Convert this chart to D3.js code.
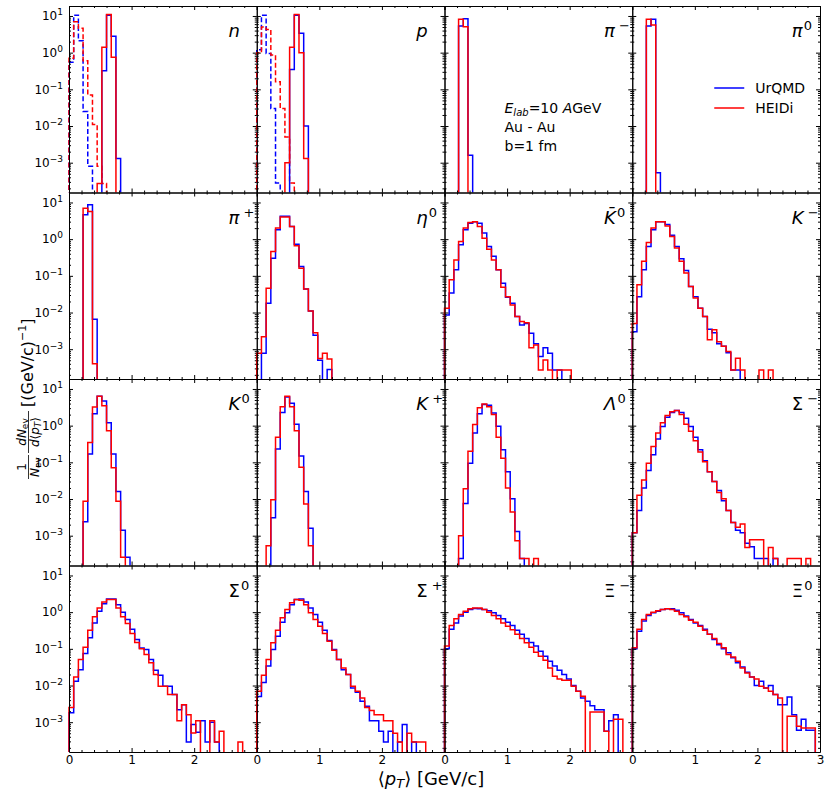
<!DOCTYPE html>
<meta charset="utf-8">
<style>
body { margin: 0; background: #fff; }
text { font-family: "DejaVu Sans", sans-serif; fill: #000; }
.tick line, .domain { stroke: #000; }
</style>
<svg id="svg" width="831" height="792"></svg>
<script src="https://d3js.org/d3.v7.min.js"></script>
<script>
// histogram bins: 0.075 GeV/c wide, starting at 0
var binWidth = 0.075;

// n, p: dashed = initial state, solid = final state
var n_init_urqmd = [0.55, 10.5, 2.1, 0.025, 8e-4];
var n_init_heidi = [0.7, 7, 4.6, 0.6, 0.07, 0.011, 8e-4, 2.7e-4];
var n_urqmd = [0, 0, 0, 0, 0, 0, 0, 0.32, 10.5, 2.8, 1.3e-3];
var n_heidi = [0, 0, 0, 0, 0, 0, 2.7e-4, 1.4, 11, 0.75];

var p_init_urqmd = [1.2, 10.5, 0.95, 0.03, 2.8e-4];
var p_init_heidi = [1.0, 5, 4.3, 0.86, 0.16, 0.03, 5e-3, 2.8e-4];
var p_urqmd = [0, 0, 0, 0, 0, 0, 0, 0.35, 10.5, 3.4, 0.01];
var p_heidi = [0, 0, 0, 0, 0, 0, 1e-3, 1.4, 11, 1.0, 1.3e-3];

var piMinus_urqmd = [0, 0, 0, 5.3, 8.4, 1.6e-3];
var piMinus_heidi = [0, 0, 0, 8.1, 5.1];
var piZero_urqmd = [0, 0, 0, 5.3, 8.1, 5.3e-4];
var piZero_heidi = [0, 0, 0, 8.1, 5.7];
var piPlus_urqmd = [0, 0, 0, 4.6, 8.6, 6.6e-3];
var piPlus_heidi = [0, 0, 0, 7, 5.7, 4e-4];

var eta_urqmd = [0, 7.8e-4, 0.018, 0.3, 1.8, 4.2, 4.2, 2.2, 0.73, 0.18, 0.044, 0.011, 2.4e-3, 5e-4, 0, 2.8e-4];
var eta_heidi = [7.8e-4, 2.2e-3, 0.046, 0.46, 2.0, 4.0, 4.0, 2.2, 0.66, 0.16, 0.044, 0.011, 2.8e-3, 5.6e-4, 7.8e-4, 5.4e-4];

var kBar_urqmd = [8.6e-3, 0.034, 0.146, 0.7, 1.8, 2.7, 3.0, 2.7, 1.46, 0.63, 0.34, 0.146, 0.063, 0.026, 0.018, 7.8e-3,
  4.6e-3, 5e-3, 2.7e-3, 1.4e-3, 6.3e-4, 1.1e-3, 7.8e-4, 2.7e-4, 2.7e-4];
var kBar_heidi = [0.013, 0.078, 0.27, 0.86, 2.0, 2.85, 3.0, 2.2, 1.06, 0.53, 0.27, 0.146, 0.049, 0.027, 0.016, 7.8e-3,
  5.7e-3, 5.3e-3, 1.1e-3, 1.3e-3, 2.7e-4, 5.1e-4, 2.7e-4, 0, 2.7e-4, 2.7e-4, 2.7e-4];

var kMinus_urqmd = [3e-3, 0.027, 0.146, 0.63, 1.8, 3.0, 3.0, 2.5, 1.27, 0.63, 0.29, 0.14, 0.051, 0.027, 0.013, 7.8e-3,
  3.5e-3, 2.8e-3, 1.4e-3, 1.2e-3, 8e-4, 2.7e-4, 2.7e-4];
var kMinus_heidi = [5e-3, 0.057, 0.25, 0.81, 2.0, 3.0, 3.0, 2.3, 1.18, 0.57, 0.25, 0.12, 0.051, 0.025, 0.013, 7.8e-3,
  1.8e-3, 3.4e-3, 1.6e-3, 1.2e-3, 8.6e-4, 2.7e-4, 5.7e-4, 2.7e-4, 0, 0, 0, 2.7e-4, 0, 2.7e-4];

var kZero_urqmd = [0, 0, 0, 2.4e-3, 0.17, 2.1, 6.3, 4.7, 1.2, 0.17, 0.016, 1.4e-3, 2.6e-4];
var kZero_heidi = [0, 0, 0, 8.7e-3, 0.35, 3.2, 6.3, 3.5, 0.73, 0.071, 8.7e-3, 2.6e-4];
var kPlus_urqmd = [0, 0, 0, 3.1e-3, 0.23, 2.3, 6.0, 4.1, 1.1, 0.15, 0.016, 1.6e-3];
var kPlus_heidi = [0, 0, 5.3e-4, 9.5e-3, 0.48, 3.3, 6.3, 3.3, 0.73, 0.074, 7.3e-3, 5.3e-4];

var lambda_urqmd = [0, 0, 0, 2.4e-4, 7.5e-3, 0.094, 0.63, 2.1, 3.8, 3.6, 2.2, 0.96, 0.22, 0.055, 0.0102, 1.3e-3, 2.4e-4];
var lambda_heidi = [0, 0, 0, 1e-3, 0.019, 0.2, 1.07, 3.1, 3.9, 3.3, 2.0, 0.48, 0.13, 0.02, 4.4e-3, 7.3e-4, 2.4e-4, 2.4e-4, 0, 2.4e-4];

var sigmaMinus_urqmd = [1.2e-3, 4.9e-3, 0.02, 0.06, 0.16, 0.43, 0.95, 1.7, 2.3, 2.6, 2.3, 1.6, 0.95, 0.48, 0.22, 0.11,
  0.055, 0.03, 0.017, 9e-3, 4.9e-3, 2.3e-3, 1.4e-3, 1.2e-3, 6.2e-4, 5e-4, 2.4e-4, 2.4e-4, 2.4e-4, 0, 2.4e-4];
var sigmaMinus_heidi = [1.2e-3, 0.0126, 0.033, 0.094, 0.27, 0.63, 1.2, 1.9, 2.4, 2.6, 2.0, 1.1, 0.7, 0.39, 0.19, 0.104,
  0.055, 0.03, 0.015, 0.0102, 4.9e-3, 2.3e-3, 1.7e-3, 2.1e-3, 4.8e-4, 7.8e-4, 7.8e-4, 7.8e-4, 0, 4.8e-4, 2.4e-4, 0, 0,
  2.4e-4, 2.4e-4, 2.4e-4, 0, 2.4e-4];

var sigmaZero_urqmd = [1.8e-3, 0.013, 0.027, 0.075, 0.2, 0.51, 1.06, 1.7, 2.3, 2.3, 1.6, 1.0, 0.63, 0.34, 0.18, 0.106,
  0.096, 0.051, 0.026, 0.019, 9.6e-3, 9.6e-3, 5.7e-3, 2.2e-3, 3e-3, 2.9e-4, 8.6e-4, 5.3e-4, 1.1e-3, 2.9e-4, 1e-3, 2.9e-4];
var sigmaZero_heidi = [2.5e-3, 0.017, 0.051, 0.11, 0.32, 0.75, 1.3, 1.9, 2.2, 2.2, 1.3, 0.75, 0.49, 0.26, 0.15, 0.1,
  0.07, 0.042, 0.02, 9.6e-3, 9.6e-3, 5.7e-3, 5.7e-3, 1.1e-3, 3e-3, 1.6e-3, 5.1e-4, 1.1e-3, 0, 0, 1.1e-3, 2.9e-4, 5.7e-4,
  0, 0, 0, 2.9e-4];

var sigmaPlus_urqmd = [5e-3, 0.012, 0.034, 0.096, 0.22, 0.53, 0.96, 1.6, 2.2, 2.3, 1.9, 1.3, 0.86, 0.53, 0.32, 0.17,
  0.096, 0.051, 0.027, 0.02, 8.6e-3, 6.6e-3, 3.7e-3, 2.7e-3, 1.1e-3, 1.1e-3, 5.7e-4, 2.9e-4, 5.7e-4, 0, 2.9e-4, 8.6e-4,
  0, 2.9e-4];
var sigmaPlus_heidi = [7e-3, 0.019, 0.051, 0.146, 0.32, 0.7, 1.18, 1.8, 2.2, 2.1, 1.6, 0.96, 0.63, 0.41, 0.26, 0.16,
  0.092, 0.051, 0.03, 0.02, 9.6e-3, 7e-3, 4.6e-3, 2.5e-3, 2.1e-3, 1.6e-3, 1.6e-3, 1.1e-3, 1.1e-3, 5e-4, 2.9e-4, 0,
  5e-4, 2.9e-4, 2.9e-4, 2.9e-4];

var xiMinus_urqmd = [0.1, 0.34, 0.51, 0.78, 1.0, 1.18, 1.26, 1.23, 1.18, 1.1, 0.96, 0.81, 0.66, 0.53, 0.43, 0.32,
  0.25, 0.19, 0.15, 0.12, 0.086, 0.063, 0.046, 0.034, 0.026, 0.02, 0.015, 0.01, 7e-3, 4.6e-3, 3.7e-3, 2.8e-3, 2.2e-3,
  2.2e-3, 5.7e-4, 1.1e-3, 1.6e-3];
var xiMinus_heidi = [0.12, 0.43, 0.66, 0.86, 1.06, 1.23, 1.3, 1.3, 1.18, 1.0, 0.81, 0.66, 0.51, 0.41, 0.33, 0.25,
  0.19, 0.146, 0.11, 0.081, 0.063, 0.049, 0.03, 0.018, 0.015, 0.014, 0.014, 9.6e-3, 7e-3, 5.1e-3, 0, 1.9e-3, 1.9e-3,
  1.9e-3, 5.7e-4, 0, 1.2e-3, 1.2e-3];

var xiZero_urqmd = [0.1, 0.3, 0.57, 0.81, 0.96, 1.06, 1.18, 1.23, 1.23, 1.13, 0.96, 0.78, 0.63, 0.51, 0.43, 0.34,
  0.25, 0.18, 0.13, 0.1, 0.078, 0.057, 0.042, 0.032, 0.023, 0.017, 0.01, 0.013, 8.6e-3, 0.01, 5.7e-3, 3e-3, 3e-3,
  4.9e-3, 1.6e-3, 6e-4, 1.2e-3, 6e-4, 6e-4];
var xiZero_heidi = [0.107, 0.34, 0.63, 0.86, 1.0, 1.1, 1.18, 1.23, 1.18, 1.06, 0.86, 0.75, 0.6, 0.53, 0.41, 0.32,
  0.25, 0.19, 0.14, 0.107, 0.07, 0.06, 0.046, 0.03, 0.022, 0.017, 0.015, 9.6e-3, 8.6e-3, 7e-3, 5.7e-3, 4.6e-3, 0,
  1.45e-3, 1.45e-3, 7.8e-4, 7e-4, 7e-4, 7e-4];

// panel names (row by row), superscript charge, italic flag
var particleNames = ["n", "p", "π", "π", "π", "η", "K", "K", "K", "K", "Λ", "Σ", "Σ", "Σ", "Ξ", "Ξ"];
var particleCharges = ["", "", "−", "0", "+", "0", "0", "−", "0", "+", "0", "−", "0", "+", "−", "0"];
var italicNames = [true, true, true, true, true, true, true, true, true, true, true, false, false, false, false, false];

var xMajor = [0, 1, 2, 3];
var yMajor = [1e-3, 1e-2, 1e-1, 1, 10];
var legendNames = ["UrQMD", "HEIDi"];
var colors = ["#0000ff", "#ff0000"];

var panels = [
  {urqmd: n_urqmd, heidi: n_heidi, urqmd0: n_init_urqmd, heidi0: n_init_heidi},
  {urqmd: p_urqmd, heidi: p_heidi, urqmd0: p_init_urqmd, heidi0: p_init_heidi},
  {urqmd: piMinus_urqmd, heidi: piMinus_heidi},
  {urqmd: piZero_urqmd, heidi: piZero_heidi},
  {urqmd: piPlus_urqmd, heidi: piPlus_heidi},
  {urqmd: eta_urqmd, heidi: eta_heidi},
  {urqmd: kBar_urqmd, heidi: kBar_heidi},
  {urqmd: kMinus_urqmd, heidi: kMinus_heidi},
  {urqmd: kZero_urqmd, heidi: kZero_heidi},
  {urqmd: kPlus_urqmd, heidi: kPlus_heidi},
  {urqmd: lambda_urqmd, heidi: lambda_heidi},
  {urqmd: sigmaMinus_urqmd, heidi: sigmaMinus_heidi},
  {urqmd: sigmaZero_urqmd, heidi: sigmaZero_heidi},
  {urqmd: sigmaPlus_urqmd, heidi: sigmaPlus_heidi},
  {urqmd: xiMinus_urqmd, heidi: xiMinus_heidi},
  {urqmd: xiZero_urqmd, heidi: xiZero_heidi}
];

var svg = d3.select("svg"),
    margin = {top: 6, right: 11, bottom: 40, left: 69},
    pw = (+svg.attr("width") - margin.left - margin.right) / 4,
    ph = (+svg.attr("height") - margin.top - margin.bottom) / 4;

var x = d3.scaleLinear().domain([0, 3]).range([0, pw]);
var y = d3.scaleLog().domain([1.54e-4, 18.7]).range([ph, 0]);

var xMinor = [];
for (var i = 1; i < 15; i++) if (i % 5) xMinor.push(i * 0.2);
var yMinor = [];
for (var e = -4; e <= 1; e++)
  for (var m = 2; m <= 9; m++) {
    var v = m * Math.pow(10, e);
    if (v > y.domain()[0] && v < y.domain()[1]) yMinor.push(v);
  }

var defs = svg.append("defs");
defs.append("clipPath").attr("id", "clip")
  .append("rect").attr("x", -2).attr("y", 0).attr("width", pw + 4).attr("height", ph);

function stepPath(vals) {
  var p = d3.path(), base = ph + 5;
  p.moveTo(x(0), base);
  vals.forEach(function(v, i) {
    var yy = v > 0 ? y(v) : base;
    p.lineTo(x(i * binWidth), yy);
    p.lineTo(x((i + 1) * binWidth), yy);
  });
  p.lineTo(x(vals.length * binWidth), base);
  return p.toString();
}

function supLabel(sel, base, sup) {
  sel.text(null);
  sel.append("tspan").text(base);
  sel.append("tspan").attr("dy", -5).attr("font-size", 9).text(sup);
}

panels.forEach(function(d, k) {
  var row = Math.floor(k / 4), col = k % 4;
  var g = svg.append("g")
    .attr("transform", "translate(" + (margin.left + col * pw) + "," + (margin.top + row * ph) + ")");

  var lines = g.append("g").attr("clip-path", "url(#clip)");
  [["urqmd0", 0], ["heidi0", 1], ["urqmd", 0], ["heidi", 1]].forEach(function(s) {
    if (!d[s[0]]) return;
    lines.append("path")
      .attr("d", stepPath(d[s[0]]))
      .attr("fill", "none")
      .attr("stroke", colors[s[1]])
      .attr("stroke-width", 1.5)
      .attr("stroke-dasharray", s[0].slice(-1) === "0" ? "5,2.5" : null);
  });

  // ticks on all four sides, pointing in
  var lastRow = row === 3;
  g.append("g").attr("transform", "translate(0," + ph + ")")
    .call(d3.axisBottom(x).tickValues(lastRow ? (col === 3 ? xMajor : xMajor.slice(0, 3)) : xMajor)
      .tickSizeInner(-4).tickSizeOuter(0).tickPadding(3)
      .tickFormat(lastRow ? d3.format("d") : ""))
    .call(function(a) { a.selectAll("text").attr("font-size", 12).attr("font-family", "DejaVu Sans"); });
  g.append("g").attr("transform", "translate(0," + ph + ")")
    .call(d3.axisBottom(x).tickValues(xMinor).tickSizeInner(-2).tickSizeOuter(0).tickFormat(""))
    .select(".domain").remove();
  g.append("g")
    .call(d3.axisTop(x).tickValues(xMajor).tickSizeInner(-4).tickSizeOuter(0).tickFormat(""));
  g.append("g")
    .call(d3.axisTop(x).tickValues(xMinor).tickSizeInner(-2).tickSizeOuter(0).tickFormat(""))
    .select(".domain").remove();

  var left = g.append("g")
    .call(d3.axisLeft(y).tickValues(yMajor).tickSizeInner(-4).tickSizeOuter(0).tickPadding(6)
      .tickFormat(col === 0 ? function(v) { return v; } : ""));
  if (col === 0) {
    left.selectAll("text").attr("font-size", 12).attr("font-family", "DejaVu Sans").each(function(v) {
      supLabel(d3.select(this), "10", String(Math.round(Math.log10(v))).replace("-", "−"));
    });
  }
  g.append("g")
    .call(d3.axisLeft(y).tickValues(yMinor).tickSizeInner(-2).tickSizeOuter(0).tickFormat(""))
    .select(".domain").remove();
  g.append("g").attr("transform", "translate(" + pw + ",0)")
    .call(d3.axisRight(y).tickValues(yMajor).tickSizeInner(-4).tickSizeOuter(0).tickFormat(""));
  g.append("g").attr("transform", "translate(" + pw + ",0)")
    .call(d3.axisRight(y).tickValues(yMinor).tickSizeInner(-2).tickSizeOuter(0).tickFormat(""))
    .select(".domain").remove();

  // particle label
  var lab = g.append("text")
    .attr("x", 0.85 * pw).attr("y", 31)
    .attr("font-size", 18);
  lab.append("tspan")
    .attr("font-style", italicNames[k] ? "italic" : "normal")
    .text(k === 6 ? particleNames[k] + "\u0304" : particleNames[k]);
  if (particleCharges[k]) {
    lab.append("tspan")
      .attr("dy", -7).attr("dx", (particleCharges[k] === "0") ? 1 : 4)
      .attr("font-size", 13)
      .text(particleCharges[k]);
  }

  if (k === 2) {
    var info = g.append("g").attr("font-size", 14);
    var t1 = info.append("text").attr("x", 60).attr("y", 107);
    t1.append("tspan").attr("font-style", "italic").text("E");
    t1.append("tspan").attr("font-style", "italic").attr("font-size", 10).attr("dy", 3).text("lab");
    t1.append("tspan").attr("dy", -3).text("=10 ");
    t1.append("tspan").attr("font-style", "italic").text("A");
    t1.append("tspan").text("GeV");
    info.append("text").attr("x", 60).attr("y", 126).text("Au - Au");
    info.append("text").attr("x", 60).attr("y", 145).text("b=1 fm");
  }

  if (k === 3) {
    var leg = g.append("g").attr("transform", "translate(82,82)");
    legendNames.forEach(function(name, i) {
      leg.append("line").attr("x1", 0).attr("x2", 30).attr("y1", i * 20).attr("y2", i * 20)
        .attr("stroke", colors[i]).attr("stroke-width", 1.5);
      leg.append("text").attr("x", 41).attr("y", i * 20).attr("dy", "0.35em")
        .attr("font-size", 14).text(name);
    });
  }
});

// y axis title
var yt = svg.append("g").attr("transform", "translate(33,385) rotate(-90)");
var f1 = yt.append("g").attr("font-size", 12);
f1.append("text").attr("x", -82).attr("y", -7).attr("text-anchor", "middle").text("1");
f1.append("line").attr("x1", -94).attr("x2", -70).attr("y1", -4.5).attr("y2", -4.5).attr("stroke", "#000").attr("stroke-width", 0.8);
var den1 = f1.append("text").attr("x", -82).attr("y", 6).attr("text-anchor", "middle");
den1.append("tspan").attr("font-style", "italic").text("N");
den1.append("tspan").attr("font-size", 9).attr("dy", 2).text("ev");

var num2 = f1.append("text").attr("x", -47).attr("y", -7).attr("text-anchor", "middle");
num2.append("tspan").attr("font-style", "italic").text("dN");
num2.append("tspan").attr("font-size", 9).attr("dy", 2).text("ev");
f1.append("line").attr("x1", -68).attr("x2", -26).attr("y1", -4.5).attr("y2", -4.5).attr("stroke", "#000").attr("stroke-width", 0.8);
var den2 = f1.append("text").attr("x", -47).attr("y", 6).attr("text-anchor", "middle");
den2.append("tspan").attr("font-style", "italic").text("d");
den2.append("tspan").text("⟨");
den2.append("tspan").attr("font-style", "italic").text("p");
den2.append("tspan").attr("font-style", "italic").attr("font-size", 9).attr("dy", 2).text("T");
den2.append("tspan").attr("dy", -2).text("⟩");

var br = yt.append("text").attr("x", -22).attr("y", 0).attr("font-size", 16);
br.append("tspan").text("[(GeV/c)");
br.append("tspan").attr("font-size", 11).attr("dy", -7).text("−1");
br.append("tspan").attr("dy", 7).text("]");

// x axis title
var xt = svg.append("text").attr("x", 431).attr("y", 785).attr("text-anchor", "middle").attr("font-size", 18);
xt.append("tspan").text("⟨");
xt.append("tspan").attr("font-style", "italic").text("p");
xt.append("tspan").attr("font-style", "italic").attr("font-size", 13).attr("dy", 3).text("T");
xt.append("tspan").attr("dy", -3).text("⟩ [GeV/c]");
</script>
